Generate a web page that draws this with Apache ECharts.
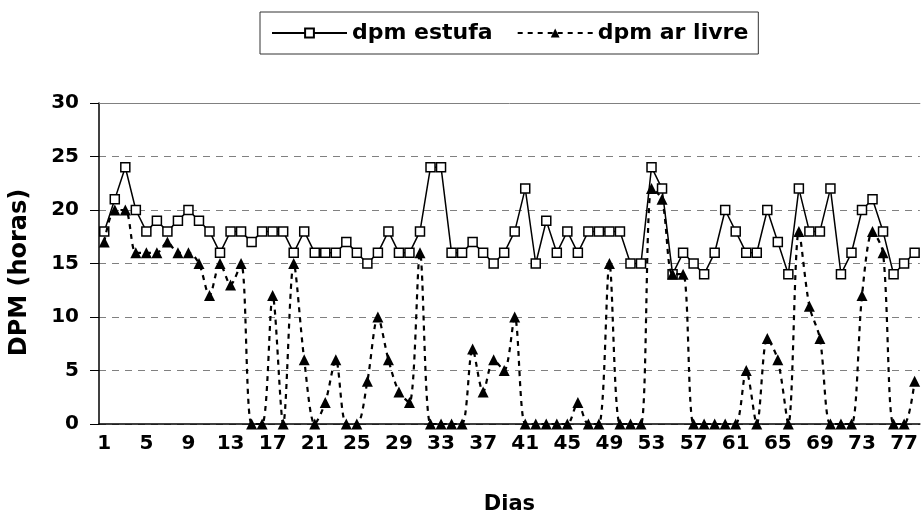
<!DOCTYPE html>
<html><head><meta charset="utf-8">
<script src="https://cdn.jsdelivr.net/npm/echarts@6/dist/echarts.min.js"></script>
<style>html,body{margin:0;padding:0;background:#fff}#c{width:921px;height:520px}</style>
</head><body><div id="c"></div>
<script>
const days = ['1','2','3','4','5','6','7','8','9','10','11','12','13','14','15','16','17','18','19','20',
  '21','22','23','24','25','26','27','28','29','30','31','32','33','34','35','36','37','38','39','40',
  '41','42','43','44','45','46','47','48','49','50','51','52','53','54','55','56','57','58','59','60',
  '61','62','63','64','65','66','67','68','69','70','71','72','73','74','75','76','77','78'];
const dpmEstufa = [18,21,24,20,18,19,18,19,20,19,18,16,18,18,17,18,18,18,16,18,
  16,16,16,17,16,15,16,18,16,16,18,24,24,16,16,17,16,15,16,18,
  22,15,19,16,18,16,18,18,18,18,15,15,24,22,14,16,15,14,16,20,
  18,16,16,20,17,14,22,18,18,22,14,16,20,21,18,14,15,16];
const dpmArLivre = [17,20,20,16,16,16,17,16,16,15,12,15,13,15,0,0,12,0,15,6,
  0,2,6,0,0,4,10,6,3,2,16,0,0,0,0,7,3,6,5,10,
  0,0,0,0,0,2,0,0,15,0,0,0,22,21,14,14,0,0,0,0,
  0,5,0,8,6,0,18,11,8,0,0,0,12,18,16,0,0,4];
const seriesNames = ['dpm estufa', 'dpm ar livre'];
const xTitle = 'Dias';
const yTitle = 'DPM (horas)';

const font = 'DejaVu Sans';
const txt = (size) => ({fontFamily: font, fontWeight: 'bold', fontSize: size, color: '#000'});
const chart = echarts.init(document.getElementById('c'), null, {renderer: 'canvas'});
chart.setOption({
  animation: false,
  backgroundColor: '#fff',
  legend: {
    left: 260, top: 12, padding: [10, 10, 10, 11], itemGap: 24, itemWidth: 75, itemHeight: 11,
    borderColor: '#333', borderWidth: 1, backgroundColor: '#fff',
    textStyle: txt(22),
    data: seriesNames
  },
  grid: {left: 99, top: 103, width: 824, height: 326},
  xAxis: [{
    type: 'category', data: days, boundaryGap: true,
    axisLine: {lineStyle: {color: '#000', width: 1.5}},
    axisTick: {interval: 0, length: 7, lineStyle: {color: '#000'}},
    axisLabel: Object.assign({interval: 3, margin: 10}, txt(20)),
    splitLine: {show: false},
    name: xTitle, nameLocation: 'middle', nameGap: 70, nameTextStyle: txt(21)
  }, {
    type: 'category', data: days, position: 'top', boundaryGap: true,
    axisLine: {show: true, lineStyle: {color: '#808080', width: 1}},
    axisTick: {show: false}, axisLabel: {show: false}, splitLine: {show: false}
  }],
  yAxis: {
    type: 'value', min: 0, max: 30, interval: 5,
    axisLine: {show: true, lineStyle: {color: '#000', width: 1.5}},
    axisTick: {show: true, length: 9, lineStyle: {color: '#000'}},
    axisLabel: Object.assign({margin: 20}, txt(20)),
    splitLine: {lineStyle: {color: '#808080', type: [7, 6]}},
    name: yTitle, nameLocation: 'middle', nameGap: 67, nameRotate: 90,
    nameTextStyle: Object.assign({padding: [0, 18, 0, 0]}, txt(24))
  },
  series: [
    {name: seriesNames[0], type: 'line', data: dpmEstufa, symbol: 'rect', symbolSize: 9, showAllSymbol: true,
     lineStyle: {color: '#000', width: 1.5}, itemStyle: {color: '#fff', borderColor: '#000', borderWidth: 1.5}, z: 2},
    {name: seriesNames[1], type: 'line', data: dpmArLivre, symbol: 'triangle', symbolSize: 11, showAllSymbol: true, smooth: 0.3,
     lineStyle: {color: '#000', width: 2.2, type: [5, 5]}, itemStyle: {color: '#000'}, z: 3}
  ]
});
</script></body></html>
